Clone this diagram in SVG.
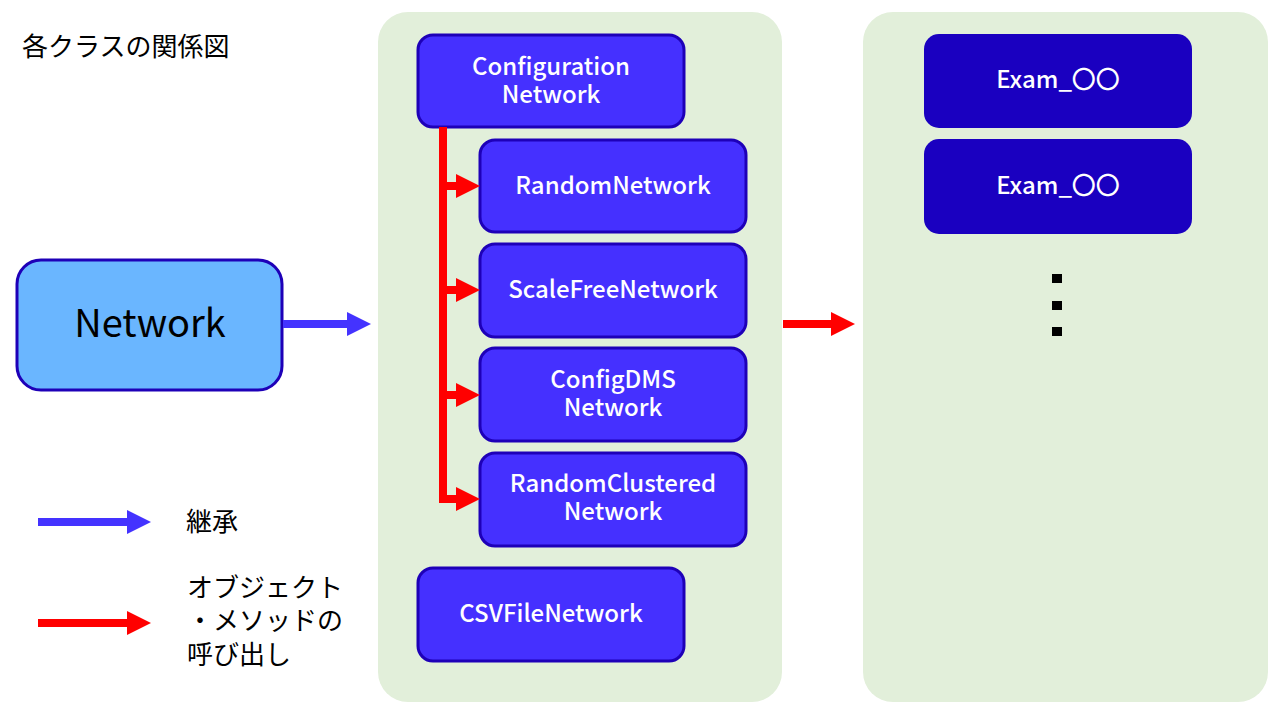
<svg xmlns="http://www.w3.org/2000/svg" width="1280" height="720" viewBox="0 0 1280 720">
<defs>
<style>
.panel{fill:#e2efda}
.cls{fill:#4530ff;stroke:#1e00b8;stroke-width:3}
.exam{fill:#1a00c0}
.wt{font-family:"Noto Sans CJK JP","Noto Sans",sans-serif;font-size:24px;fill:#fff;text-anchor:middle;font-weight:500}
.jt{font-family:"Noto Sans CJK JP",sans-serif;font-size:26px;fill:#000}
.blue{stroke:#4433ff;stroke-width:8;fill:none}
.red{stroke:#ff0000;stroke-width:8;fill:none}
</style>
<marker id="hb" markerUnits="userSpaceOnUse" markerWidth="24" markerHeight="24" refX="4" refY="12" orient="auto"><path d="M0,0 L24,12 L0,24 Z" fill="#4433ff"/></marker>
<marker id="hr" markerUnits="userSpaceOnUse" markerWidth="24" markerHeight="24" refX="4" refY="12" orient="auto"><path d="M0,0 L24,12 L0,24 Z" fill="#ff0000"/></marker>
</defs>
<rect width="1280" height="720" fill="#fff"/>
<rect class="panel" x="378" y="12" width="404" height="690" rx="30"/>
<rect class="panel" x="863" y="12" width="405" height="690" rx="30"/>
<text class="jt" x="22" y="56" font-size="26.4">各クラスの関係図</text>
<g id="network">
<rect x="17" y="260" width="265" height="130" rx="24" fill="#6ab6ff" stroke="#1e00b8" stroke-width="3"/>
<text x="150" y="337" font-family="Noto Sans CJK JP,Noto Sans,sans-serif" font-size="38" text-anchor="middle" fill="#000">Network</text>
</g>
<g id="configuration-network">
<rect class="cls" x="418" y="35" width="266" height="92" rx="15"/>
<text class="wt"><tspan x="551" y="75">Configuration</tspan><tspan x="551" y="103">Network</tspan></text>
</g>
<g id="random-network">
<rect class="cls" x="480" y="140" width="266" height="92" rx="15"/>
<text class="wt" x="613" y="194">RandomNetwork</text>
</g>
<g id="scalefree-network">
<rect class="cls" x="480" y="244" width="266" height="93" rx="15"/>
<text class="wt" x="613" y="298">ScaleFreeNetwork</text>
</g>
<g id="configdms-network">
<rect class="cls" x="480" y="348" width="266" height="93" rx="15"/>
<text class="wt"><tspan x="613" y="388">ConfigDMS</tspan><tspan x="613" y="416">Network</tspan></text>
</g>
<g id="randomclustered-network">
<rect class="cls" x="480" y="453" width="266" height="93" rx="15"/>
<text class="wt"><tspan x="613" y="492">RandomClustered</tspan><tspan x="613" y="520">Network</tspan></text>
</g>
<g id="csvfile-network">
<rect class="cls" x="418" y="568" width="266" height="93" rx="15"/>
<text class="wt" x="551" y="622">CSVFileNetwork</text>
</g>
<g id="exam-1">
<rect class="exam" x="924" y="34" width="268" height="94" rx="15"/>
<text class="wt" x="1058" y="88">Exam_〇〇</text>
</g>
<g id="exam-2">
<rect class="exam" x="924" y="139" width="268" height="95" rx="15"/>
<text class="wt" x="1058" y="194">Exam_〇〇</text>
</g>
<g id="ellipsis" fill="#000">
<rect x="1052" y="274" width="10" height="9"/>
<rect x="1052" y="301" width="10" height="9"/>
<rect x="1052" y="327" width="10" height="9"/>
</g>
<g id="connectors">
<line class="blue" x1="283" y1="324" x2="351" y2="324" marker-end="url(#hb)"/>
<line class="red" x1="783" y1="324" x2="835" y2="324" marker-end="url(#hr)"/>
<path class="red" d="M443,127 V499"/>
<line class="red" x1="443" y1="186" x2="460" y2="186" marker-end="url(#hr)"/>
<line class="red" x1="443" y1="290" x2="460" y2="290" marker-end="url(#hr)"/>
<line class="red" x1="443" y1="395" x2="460" y2="395" marker-end="url(#hr)"/>
<line class="red" x1="439" y1="499" x2="460" y2="499" marker-end="url(#hr)"/>
</g>
<g id="legend">
<line class="blue" x1="38" y1="522" x2="131" y2="522" marker-end="url(#hb)"/>
<text class="jt" x="186" y="531">継承</text>
<line class="red" x1="38" y1="623" x2="131" y2="623" marker-end="url(#hr)"/>
<text class="jt"><tspan x="187" y="597">オブジェクト</tspan><tspan x="187" y="630">・メソッドの</tspan><tspan x="187" y="664">呼び出し</tspan></text>
</g>
</svg>
